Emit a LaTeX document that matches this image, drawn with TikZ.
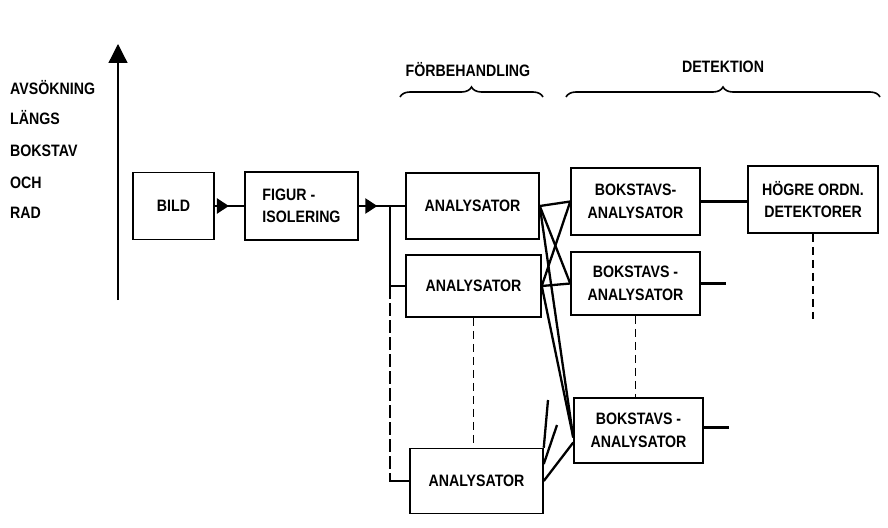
\documentclass[tikz,border=0pt]{standalone}
\usepackage{fontspec}
\setmainfont{Liberation Sans}[FakeStretch=0.86]
\usetikzlibrary{arrows.meta,calc,decorations.markings,decorations.pathreplacing}

\tikzset{
  box/.style={draw,line width=1.5pt,inner sep=0pt,align=center,
    font=\bfseries\fontsize{16.5}{22.5}\selectfont},
  lbl/.style={font=\bfseries\fontsize{16.5}{18}\selectfont},
  wire/.style={line width=2.3pt},
  dline/.style={line width=1.3pt,dash pattern=on 8pt off 5pt},
  busdash/.style={line width=1.8pt,dash pattern=on 13pt off 4pt},
  midarrow/.style={postaction={decorate},
    decoration={markings,mark=at position #1 with {\arrow{Triangle[length=12pt,width=15pt]}}}},
  curly/.style={line width=1.6pt,decorate,decoration={brace,amplitude=10pt}}
}

\begin{document}
\begin{tikzpicture}[x=1pt,y=-1pt]
\useasboundingbox (0,0) rectangle (888,527);

% scanning axis
\foreach \t/\y [count=\i] in {AVSÖKNING/88,LÄNGS/118,BOKSTAV/150,OCH/182,RAD/212}
  \node[lbl,anchor=base west,inner sep=0pt] (scan\i) at (10,\y+6) {\t};
\coordinate (axlo) at (118,300);
\coordinate (axhi) at (118,44);
\draw[line width=1.3pt,-{Triangle[length=19pt,width=19pt]}] (axlo) -- (axhi);

% blocks
\node[box,minimum width=81pt,minimum height=67pt] (bild) at (173.5,206) {BILD};
\node[box,minimum width=113pt,minimum height=68pt,align=left] (fig) at (301.5,206) {FIGUR -\\ISOLERING};
\node[box,minimum width=133pt,minimum height=66pt] (ana1) at (472.5,206) {ANALYSATOR};
\node[box,minimum width=135pt,minimum height=62pt] (ana2) at (473.5,286) {ANALYSATOR};
\node[box,minimum width=133pt,minimum height=65pt] (ana3) at (476.5,481) {ANALYSATOR};
\node[box,minimum width=129pt,minimum height=67pt] (bok1) at (635.5,201.5) {BOKSTAVS-\\ANALYSATOR};
\node[box,minimum width=129pt,minimum height=63pt] (bok2) at (635.5,283.5) {BOKSTAVS -\\ANALYSATOR};
\node[box,minimum width=129pt,minimum height=65pt] (bok3) at (638.5,430.5) {BOKSTAVS -\\ANALYSATOR};
\node[box,minimum width=130pt,minimum height=67pt] (hog) at (813,199.5) {HÖGRE ORDN.\\DETEKTORER};

% group labels
\node[lbl] (forb) at (468,70) {FÖRBEHANDLING};
\node[lbl] (detek) at (723,67) {DETEKTION};
\draw[curly] (400,97) -- (543,97);
\draw[curly] (566,97) -- (880,97);

% input chain
\draw[wire,midarrow=0.48] (bild.east) -- (fig.west);
\draw[wire,midarrow=0.4] (fig.east) -- (ana1.west);
\coordinate (bus) at (390,206);
\draw[wire] (bus) |- (ana2.west);
\draw[busdash] (bus |- ana2.west) -- (bus |- ana3.west);
\draw[wire] ($(bus |- ana3.west)+(0,-6)$) -- (bus |- ana3.west) -- (ana3.west);
\draw[dline] (ana2.south) -- (ana2.south |- ana3.north);

% analysers to letter analysers
\coordinate (b3in) at ($(bok3.west)+(0,7)$);
\coordinate (b3low) at ($(bok3.west)+(0,12)$);
\draw[wire] (ana1.east) -- (bok1.west);
\draw[wire] (ana1.east) -- (bok2.west);
\draw[wire] (ana2.east) -- (bok1.west);
\draw[wire] (ana2.east) -- (bok2.west);
\draw[wire] (ana1.east) -- (b3in);
\draw[wire] (ana2.east) -- (b3in);
\draw[wire] (ana3.east) -- (b3low);
\coordinate (stubA) at (548,400);
\coordinate (stubB) at (557,425);
\draw[wire] (ana3.north east) -- (stubA);
\draw[wire] ($(ana3.east)+(0,-17)$) -- (stubB);

% detection outputs
\draw[dline] (bok2.south) -- (bok2.south |- bok3.north);
\draw[wire] (bok1.east) -- (bok1.east -| hog.west);
\coordinate (o2) at ($(bok2.east)+(25,0)$);
\coordinate (o3) at ($(bok3.east)+(25,-3)$);
\draw[wire] (bok2.east) -- (o2);
\draw[wire] ($(bok3.east)+(0,-3)$) -- (o3);
\coordinate (hogend) at ($(hog.south)+(0,85)$);
\draw[dline] (hog.south) -- (hogend);
\end{tikzpicture}
\end{document}
